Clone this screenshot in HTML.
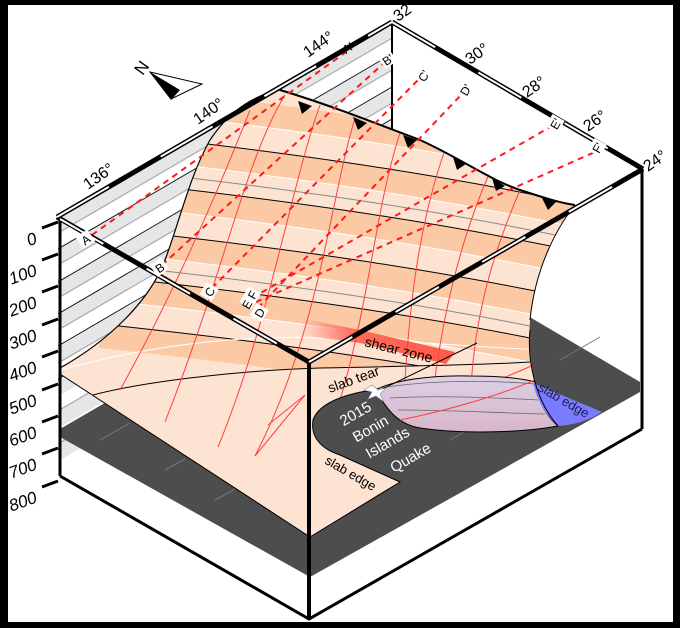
<!DOCTYPE html>
<html><head><meta charset="utf-8"><style>
html,body{margin:0;padding:0;background:#000;}
svg{display:block;font-family:"Liberation Sans",Arial,sans-serif;}
</style></head><body>
<svg width="680" height="628" viewBox="0 0 680 628" xmlns="http://www.w3.org/2000/svg">
<defs>
<clipPath id="slab"><path id="slabp" d="M280,90 C330,105 380,125 420,140 C460,158 490,180 520,190 C545,198 560,203 575,205 C555,230 535,270 530,320 C527,360 535,400 558,426 C520,433 460,434 420,428 C395,424 385,405 375,390 C355,392 320,400 313,420 C310,440 325,450 340,455 L400,482 L310,537 L60,374 L60,368 C110,340 150,300 165,260 C180,220 190,175 210,140 C230,110 255,95 280,90 Z"/></clipPath>
<clipPath id="wall"><polygon points="58,217 392,22 392,281 58,476"/></clipPath>
<linearGradient id="sz" x1="0" y1="0" x2="1" y2="0"><stop offset="0" stop-color="#ff6b5a" stop-opacity="0"/><stop offset="0.35" stop-color="#ff6b5a"/><stop offset="1" stop-color="#ff5a4a"/></linearGradient>
<linearGradient id="lil" x1="0" y1="0" x2="0" y2="1"><stop offset="0" stop-color="#ddd0e6"/><stop offset="1" stop-color="#d8b6c8"/></linearGradient>
<path id="cv" d="M100,120 C270,138 440,160 640,205" fill="none"/>
</defs>
<rect x="8" y="5" width="665" height="617" fill="#fff"/>
<g clip-path="url(#wall)">
<rect x="50" y="0" width="350" height="500" fill="#fff"/>
<g stroke-width="16.2" stroke="#e6e6e6">
<line x1="58" y1="225" x2="392" y2="30"/><line x1="58" y1="257" x2="392" y2="62"/><line x1="58" y1="290" x2="392" y2="95"/><line x1="58" y1="322" x2="392" y2="127"/><line x1="58" y1="355" x2="392" y2="160"/><line x1="58" y1="387" x2="392" y2="192"/><line x1="58" y1="419" x2="392" y2="224"/><line x1="58" y1="452" x2="392" y2="257"/>
</g>
<g stroke-width="0.8">
<line x1="58" y1="249" x2="392" y2="54" stroke="#000"/><line x1="58" y1="282" x2="392" y2="87" stroke="#000"/><line x1="58" y1="314" x2="392" y2="119" stroke="#000"/><line x1="58" y1="346" x2="392" y2="151" stroke="#000"/><line x1="58" y1="379" x2="392" y2="184" stroke="#000"/><line x1="58" y1="411" x2="392" y2="216" stroke="#999"/><line x1="58" y1="444" x2="392" y2="249" stroke="#999"/>
<line x1="58" y1="233" x2="392" y2="38" stroke="#999"/><line x1="58" y1="265" x2="392" y2="70" stroke="#999"/><line x1="58" y1="298" x2="392" y2="103" stroke="#999"/><line x1="58" y1="330" x2="392" y2="135" stroke="#999"/><line x1="58" y1="363" x2="392" y2="168" stroke="#999"/>
</g>
</g>
<line x1="392" y1="22" x2="392" y2="130" stroke="#000" stroke-width="2"/>
<polygon points="60,429 392,236 640,382 640,392 310,577 60,437" fill="#4d4d4d"/>
<g stroke="#777" stroke-width="1"><line x1="100" y1="440" x2="130" y2="423"/><line x1="165" y1="470" x2="185" y2="459"/><line x1="215" y1="500" x2="235" y2="489"/><line x1="450" y1="440" x2="520" y2="400"/><line x1="560" y1="360" x2="600" y2="337"/></g>
<g clip-path="url(#slab)">
<rect x="50" y="80" width="560" height="470" fill="#fde3d1"/>
<g stroke="#fbcaa5" stroke-width="24">
<use href="#cv" transform="translate(0,-24)"/><use href="#cv" transform="translate(0,24)"/><use href="#cv" transform="translate(0,72)"/><use href="#cv" transform="translate(0,120)"/><use href="#cv" transform="translate(0,168)"/><use href="#cv" transform="translate(0,216)"/>
</g>
<g stroke-width="1">
<use href="#cv" transform="translate(0,-12)" stroke="#fff"/><use href="#cv" transform="translate(0,12)" stroke="#000"/><use href="#cv" transform="translate(0,36)" stroke="#fff"/><use href="#cv" transform="translate(0,48)" stroke="#888"/><use href="#cv" transform="translate(0,60)" stroke="#000"/><use href="#cv" transform="translate(0,84)" stroke="#fff"/><use href="#cv" transform="translate(0,108)" stroke="#000"/><use href="#cv" transform="translate(0,132)" stroke="#fff"/><use href="#cv" transform="translate(0,144)" stroke="#888"/><use href="#cv" transform="translate(0,156)" stroke="#000"/><use href="#cv" transform="translate(0,180)" stroke="#fff"/><use href="#cv" transform="translate(0,204)" stroke="#000"/>
</g>
<path d="M60,370 C150,345 240,335 320,338 C420,342 500,348 540,350" fill="none" stroke="#fff" stroke-width="1"/>
<path d="M93,395 C150,380 250,370 320,368 C420,366 500,364 530,362 L560,430 L420,430 L375,390 L313,420 L340,455 L400,482 L310,537 L60,374 Z" fill="#fde3d1"/>
<path d="M93,395 C150,380 250,370 320,368 C420,366 500,364 530,362" fill="none" stroke="#000" stroke-width="1"/>
<polygon points="300,318 360,330 455,352 446,364 360,343 300,335" fill="url(#sz)"/>
<g fill="none" stroke="#ff4040" stroke-width="1">
<path d="M285,95 C245,160 225,270 165,422"/>
<path d="M320,105 C290,190 270,320 218,447"/>
<path d="M355,118 C330,200 320,330 255,456"/>
<path d="M400,133 C375,210 370,300 340,400"/>
<path d="M445,150 C420,220 410,300 405,380"/>
<path d="M490,172 C460,240 440,320 430,420"/>
<path d="M520,190 C490,260 470,330 470,420"/>
<path d="M255,456 L305,395 L268,425"/>
<path d="M380,420 C440,405 500,380 545,360"/>
<path d="M250,110 C215,200 170,300 120,390"/>
</g>
</g>
<path d="M375,390 C395,380 430,375 470,376 C500,376 520,378 535,382 C538,400 545,415 558,426 C520,433 460,434 420,428 C395,424 385,405 375,390 Z" fill="url(#lil)" stroke="#000" stroke-width="1"/>
<path d="M380,388 C430,380 490,380 535,384 M390,398 C440,395 500,398 538,400 M398,410 C450,410 500,413 545,414" fill="none" stroke="#666" stroke-width="0.8"/>
<path d="M400,420 C450,410 500,395 535,380" fill="none" stroke="#ff4040" stroke-width="1"/>
<path d="M533,383 L602,412 C590,420 575,425 558,426 C545,415 537,400 533,383 Z" fill="#7b7bff"/>
<path d="M530,330 C527,360 535,400 558,426" fill="none" stroke="#000" stroke-width="1"/>
<path d="M575,205 C555,230 535,270 530,320" fill="none" stroke="#000" stroke-width="1"/>
<path d="M60,368 C110,340 150,300 165,260 C180,220 190,175 210,140 C230,110 255,95 280,90" fill="none" stroke="#000" stroke-width="1.2"/>
<path d="M375,390 C355,392 320,400 313,420 C310,440 325,450 340,455 L400,482 L310,537 M60,374 L310,537" fill="none" stroke="#000" stroke-width="1"/>
<path d="M280,90 C330,105 380,125 420,140 C460,158 490,180 520,190 C545,198 560,203 575,205" fill="none" stroke="#000" stroke-width="2"/>
<g fill="#000"><polygon points="298,101 312,106 302,114"/><polygon points="353,117 367,123 358,130"/><polygon points="403,135 417,140 408,148"/><polygon points="453,157 466,164 457,170"/><polygon points="492,178 505,186 496,191"/><polygon points="542,198 556,202 548,210"/></g>
<line x1="372" y1="394" x2="477" y2="343" stroke="#000" stroke-width="1"/>
<g stroke="#ff1a1a" stroke-width="2" stroke-dasharray="6,5" fill="none">
<line x1="92" y1="235" x2="346" y2="52"/><line x1="162" y1="265" x2="385" y2="62"/><line x1="212" y1="288" x2="420" y2="78"/><line x1="258" y1="308" x2="462" y2="94"/><line x1="252" y1="298" x2="552" y2="126"/><line x1="256" y1="302" x2="595" y2="152"/>
</g>
<g stroke="#000" stroke-width="3" fill="none">
<line x1="60" y1="217" x2="60" y2="476"/><line x1="642" y1="169" x2="642" y2="429"/>
<polyline points="60,476 309,619 642,429"/>
</g>
<line x1="309" y1="362" x2="309" y2="619" stroke="#000" stroke-width="4"/>
<g stroke-width="5" fill="none" stroke="#000">
<line x1="57" y1="217" x2="392" y2="22"/><line x1="392" y1="22" x2="643" y2="169"/><line x1="57" y1="217" x2="309" y2="362"/><line x1="309" y1="362" x2="643" y2="169"/>
</g>
<g stroke-width="2" fill="none" stroke="#fff" stroke-dasharray="60,60">
<line x1="57" y1="217" x2="392" y2="22"/><line x1="392" y1="22" x2="643" y2="169" stroke-dasharray="50,50"/><line x1="60" y1="219" x2="309" y2="362" stroke-dasharray="50,50"/><line x1="309" y1="362" x2="643" y2="169" stroke-dasharray="50,50"/>
</g>
<g stroke="#000" stroke-width="3">
<line x1="42" y1="228" x2="58" y2="222"/><line x1="42" y1="260" x2="58" y2="254"/><line x1="42" y1="292" x2="58" y2="286"/><line x1="42" y1="325" x2="58" y2="319"/><line x1="42" y1="357" x2="58" y2="351"/><line x1="42" y1="390" x2="58" y2="384"/><line x1="42" y1="422" x2="58" y2="416"/><line x1="42" y1="454" x2="58" y2="448"/><line x1="42" y1="487" x2="58" y2="481"/>
</g>
<g font-size="17" font-style="italic" text-anchor="end" fill="#000">
<text x="38" y="243" transform="rotate(-20 38 243)">0</text><text x="38" y="275" transform="rotate(-20 38 275)">100</text><text x="38" y="307" transform="rotate(-20 38 307)">200</text><text x="38" y="340" transform="rotate(-20 38 340)">300</text><text x="38" y="372" transform="rotate(-20 38 372)">400</text><text x="38" y="405" transform="rotate(-20 38 405)">500</text><text x="38" y="437" transform="rotate(-20 38 437)">600</text><text x="38" y="469" transform="rotate(-20 38 469)">700</text><text x="38" y="502" transform="rotate(-20 38 502)">800</text>
</g>
<g font-size="16" fill="#000">
<text x="88" y="190" transform="rotate(-35 88 190)">136°</text>
<text x="198" y="125" transform="rotate(-35 198 125)">140°</text>
<text x="308" y="58" transform="rotate(-35 308 58)">144°</text>
<text x="398" y="22" transform="rotate(-35 398 22)">32°</text>
<text x="470" y="65" transform="rotate(-35 470 65)">30°</text>
<text x="527" y="98" transform="rotate(-35 527 98)">28°</text>
<text x="588" y="132" transform="rotate(-35 588 132)">26°</text>
<text x="648" y="172" transform="rotate(-35 648 172)">24°</text>
</g>
<g font-size="12" fill="#000" text-anchor="middle">
<g transform="translate(86,240) rotate(-35)"><rect x="-7" y="-8" width="14" height="14" fill="#fff"/><text y="4">A</text></g>
<g transform="translate(160,268) rotate(-35)"><rect x="-7" y="-8" width="14" height="14" fill="#fff"/><text y="4">B</text></g>
<g transform="translate(210,292) rotate(-60)"><rect x="-7" y="-8" width="14" height="14" fill="#fff"/><text y="4">C</text></g>
<g transform="translate(250,300) rotate(-60)"><rect x="-7" y="-8" width="18" height="14" fill="#fff"/><text y="4">E F</text></g>
<g transform="translate(260,313) rotate(-60)"><rect x="-7" y="-8" width="14" height="14" fill="#fff"/><text y="4">D</text></g>
<g transform="translate(348,48) rotate(-35)"><text y="4">A'</text></g>
<g transform="translate(388,60) rotate(-35)"><rect x="-7" y="-8" width="14" height="14" fill="#fff"/><text y="4">B'</text></g>
<g transform="translate(424,76) rotate(-60)"><text y="4">C'</text></g>
<g transform="translate(466,90) rotate(-60)"><text y="4">D'</text></g>
<g transform="translate(556,124) rotate(-60)"><rect x="-7" y="-8" width="14" height="14" fill="#fff"/><text y="4">E'</text></g>
<g transform="translate(598,148) rotate(-60)"><rect x="-7" y="-8" width="14" height="14" fill="#fff"/><text y="4">F'</text></g>
</g>
<text x="135" y="75" font-size="17" transform="rotate(-55 140 68)">N</text>
<polygon points="150,72 202,84 171,99" fill="#fff" stroke="#000" stroke-width="1"/>
<polygon points="150,72 180,90 171,100" fill="#000"/>
<text x="364" y="346" font-size="14" transform="rotate(14 364 346)">shear zone</text>
<text x="330" y="393" font-size="14" transform="rotate(-20 330 393)">slab tear</text>
<polygon points="372,385 378,390 386,388 380,394 384,402 376,396 368,399 372,392 364,390" fill="#fff" stroke="#88a" stroke-width="0.6"/>
<g font-size="15" fill="#fff" text-anchor="middle">
<text x="358" y="418" transform="rotate(-30 358 418)">2015</text>
<text x="373" y="433" transform="rotate(-30 373 433)">Bonin</text>
<text x="390" y="447" transform="rotate(-30 390 447)">Islands</text>
<text x="413" y="462" transform="rotate(-30 413 462)">Quake</text>
</g>
<text x="324" y="463" font-size="13" transform="rotate(30 324 463)">slab edge</text>
<text x="537" y="390" font-size="13" fill="#202050" transform="rotate(30 537 390)">slab edge</text>
</svg>
</body></html>
